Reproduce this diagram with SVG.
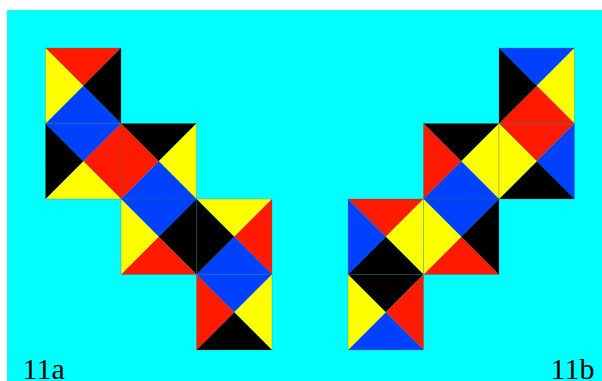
<svg xmlns="http://www.w3.org/2000/svg" width="602" height="381" viewBox="0 0 602 381">
<style>
.r{fill:#ff1a00}.k{fill:#000}.b{fill:#0040ff}.y{fill:#ffff00}
polygon{stroke:none}
.edge{fill:none;stroke:#4a6a6a;stroke-width:0.6;stroke-opacity:0.5}
text{font-family:"Liberation Serif","Times New Roman",serif;font-size:30px;fill:#000}
</style>
<defs>
<polygon id="T" points="0,0 75.5,0 37.75,37.75"/>
<polygon id="R" points="75.5,0 75.5,75.5 37.75,37.75"/>
<polygon id="B" points="0,75.5 75.5,75.5 37.75,37.75"/>
<polygon id="L" points="0,0 0,75.5 37.75,37.75"/>
</defs>
<rect x="0" y="0" width="602" height="381" fill="#fff"/>
<rect x="7" y="10" width="595" height="371" fill="#00ffff"/>
<g id="a1" transform="translate(45.5,48)"><use href="#T" class="r"/><use href="#R" class="k"/><use href="#B" class="b"/><use href="#L" class="y"/><rect class="edge" width="75.5" height="75.5"/></g>
<g id="a2" transform="translate(45.5,123.5)"><use href="#T" class="b"/><use href="#R" class="r"/><use href="#B" class="y"/><use href="#L" class="k"/><rect class="edge" width="75.5" height="75.5"/></g>
<g id="a3" transform="translate(121,123.5)"><use href="#T" class="k"/><use href="#R" class="y"/><use href="#B" class="b"/><use href="#L" class="r"/><rect class="edge" width="75.5" height="75.5"/></g>
<g id="a4" transform="translate(121,199)"><use href="#T" class="b"/><use href="#R" class="k"/><use href="#B" class="r"/><use href="#L" class="y"/><rect class="edge" width="75.5" height="75.5"/></g>
<g id="a5" transform="translate(196.5,199)"><use href="#T" class="y"/><use href="#R" class="r"/><use href="#B" class="b"/><use href="#L" class="k"/><rect class="edge" width="75.5" height="75.5"/></g>
<g id="a6" transform="translate(196.5,274.5)"><use href="#T" class="b"/><use href="#R" class="y"/><use href="#B" class="k"/><use href="#L" class="r"/><rect class="edge" width="75.5" height="75.5"/></g>
<g id="b1" transform="translate(499,48)"><use href="#T" class="b"/><use href="#R" class="y"/><use href="#B" class="r"/><use href="#L" class="k"/><rect class="edge" width="75.5" height="75.5"/></g>
<g id="b2" transform="translate(423.5,123.5)"><use href="#T" class="k"/><use href="#R" class="y"/><use href="#B" class="b"/><use href="#L" class="r"/><rect class="edge" width="75.5" height="75.5"/></g>
<g id="b3" transform="translate(499,123.5)"><use href="#T" class="r"/><use href="#R" class="b"/><use href="#B" class="k"/><use href="#L" class="y"/><rect class="edge" width="75.5" height="75.5"/></g>
<g id="b4" transform="translate(348,199)"><use href="#T" class="r"/><use href="#R" class="y"/><use href="#B" class="k"/><use href="#L" class="b"/><rect class="edge" width="75.5" height="75.5"/></g>
<g id="b5" transform="translate(423.5,199)"><use href="#T" class="b"/><use href="#R" class="k"/><use href="#B" class="r"/><use href="#L" class="y"/><rect class="edge" width="75.5" height="75.5"/></g>
<g id="b6" transform="translate(348,274.5)"><use href="#T" class="k"/><use href="#R" class="r"/><use href="#B" class="b"/><use href="#L" class="y"/><rect class="edge" width="75.5" height="75.5"/></g>
<g id="labels">
<text x="22.5" y="378.5">11a</text>
<text x="550.5" y="378.5">11b</text>
</g>
</svg>
